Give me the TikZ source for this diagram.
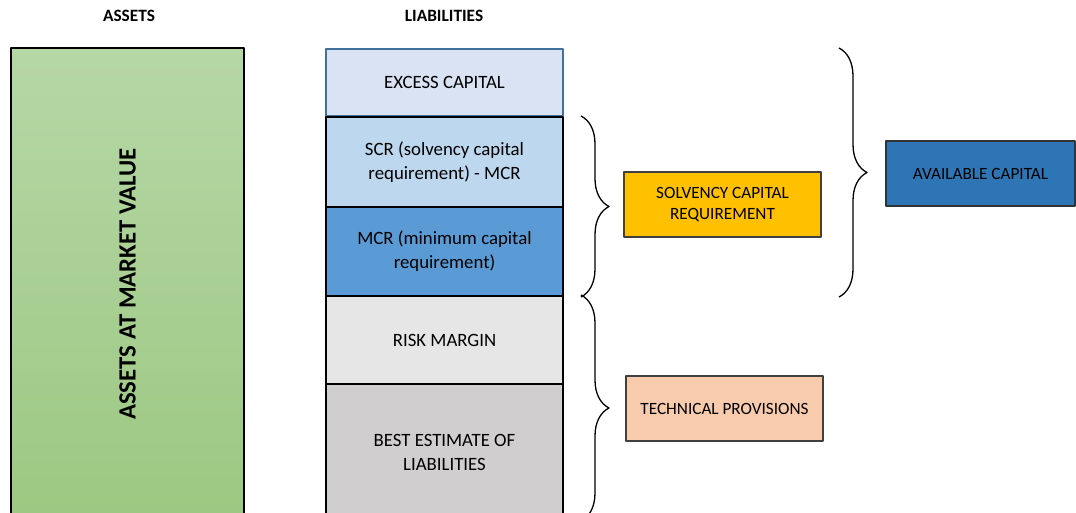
\documentclass[tikz,border=0pt]{standalone}
\usepackage{fontspec}
\setmainfont{Carlito}
\usetikzlibrary{decorations.pathreplacing}
\definecolor{exfill}{HTML}{DAE3F3}
\definecolor{exline}{HTML}{41719C}
\definecolor{scrfill}{HTML}{BDD7EE}
\definecolor{mcrfill}{HTML}{5B9BD5}
\definecolor{riskfill}{HTML}{E7E6E6}
\definecolor{bestfill}{HTML}{D0CECE}
\definecolor{solvfill}{HTML}{FFC000}
\definecolor{availfill}{HTML}{2E75B6}
\definecolor{techfill}{HTML}{F8CBAD}
\definecolor{greentop}{HTML}{B6D7A6}
\definecolor{greenbot}{HTML}{9CC882}
\begin{document}
\begin{tikzpicture}[x=1pt,y=-1pt,line join=round,font=\fontsize{18.8}{24}\selectfont]
    \tikzset{liab/.style={draw,line width=2pt,minimum width=237pt,anchor=north west,align=center,inner sep=0pt},
        side/.style={draw=black!75,line width=1.2pt,align=center,inner sep=0pt,font=\fontsize{17.2}{21.5}\selectfont},
        head/.style={font=\fontsize{17.3}{20}\selectfont\bfseries},
        curly/.style={draw,line width=1.3pt,decoration={brace,amplitude=28pt,raise=#1},decorate}}
    \useasboundingbox (0,0) rectangle (1076,513);
    \clip (0,0) rectangle (1076,513);
    \node[head] (hassets) at (129,16) {ASSETS};
    \node[head] (hliab) at (444,16) {LIABILITIES};
    % assets column
    \node[draw,line width=2pt,anchor=north west,minimum width=233pt,minimum height=472pt,top color=greentop,bottom color=greenbot] (assets) at (10,47) {};
    \node[rotate=90,font=\fontsize{24.8}{28}\selectfont\bfseries] (assetstxt) at (assets.center) {ASSETS AT MARKET VALUE};
    % liabilities column
    \node[liab,draw=exline,fill=exfill,minimum height=67pt] (excess) at (325,48) {EXCESS CAPITAL};
    \node[liab,fill=scrfill,minimum height=90pt] (scr) at (325,116) {SCR (solvency capital\\requirement) - MCR};
    \node[liab,fill=mcrfill,minimum height=89pt] (mcr) at (325,206) {MCR (minimum capital\\requirement)};
    \node[liab,fill=riskfill,minimum height=88pt] (risk) at (325,295) {RISK MARGIN};
    \node[liab,fill=bestfill,minimum height=136pt] (best) at (325,383) {BEST ESTIMATE OF\\LIABILITIES};
    % braces and totals
    \draw[curly=17pt] (scr.north east) -- (mcr.south east);
    \draw[curly=17pt] (risk.north east) -- (best.south east);
    \draw[curly=275pt] (excess.north east) -- (mcr.south east);
    \node[side,fill=solvfill,minimum width=197pt,minimum height=65pt] (solv) at (722.5,204.5) {SOLVENCY CAPITAL\\REQUIREMENT};
    \node[side,fill=availfill,draw=black!80,minimum width=189pt,minimum height=65pt] (avail) at (980.5,173.5) {AVAILABLE CAPITAL};
    \node[side,fill=techfill,minimum width=197pt,minimum height=65pt] (tech) at (724.5,408.5) {TECHNICAL PROVISIONS};
\end{tikzpicture}
\end{document}
